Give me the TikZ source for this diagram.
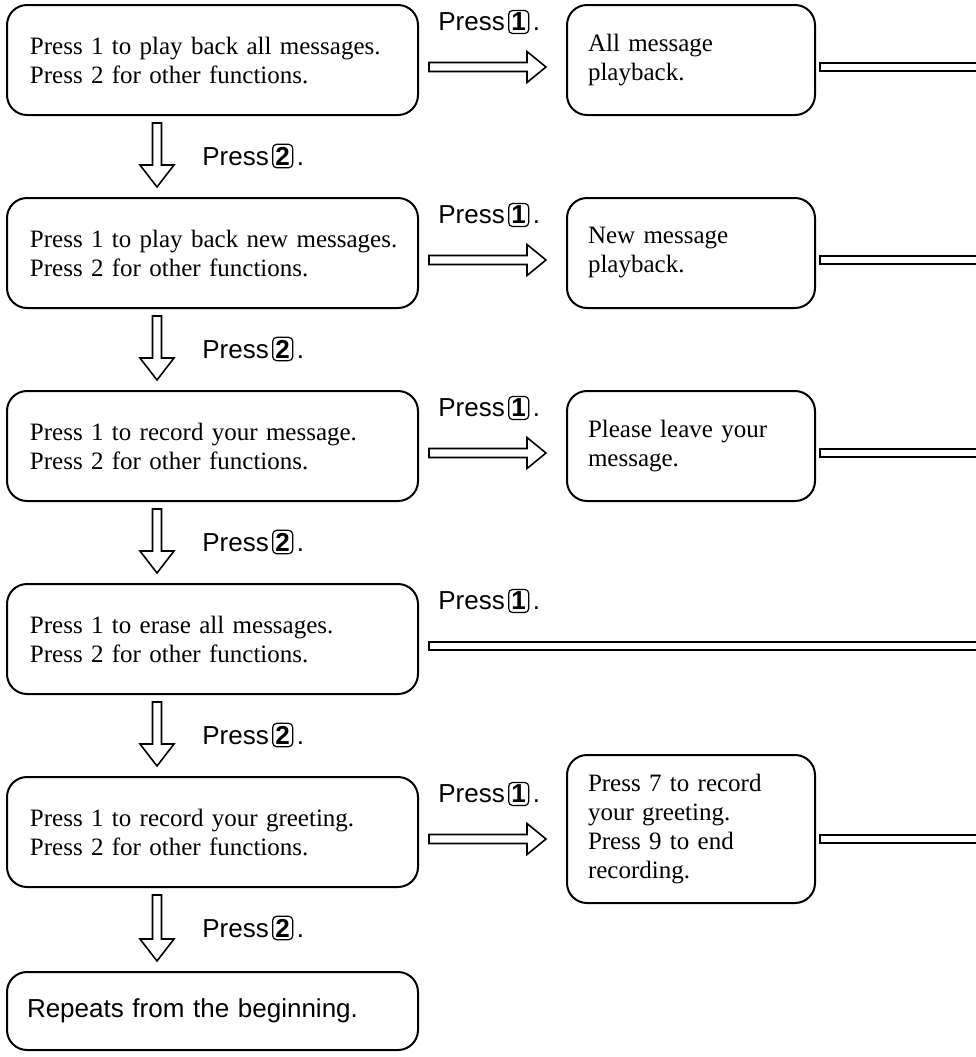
\documentclass[tikz,border=0pt]{standalone}
\usepackage{fontspec}
\setmainfont{Liberation Serif}[WordSpace=0.85]
\setsansfont{Liberation Sans}
\usetikzlibrary{calc}
\newcommand{\rowgap}{193}
\newcommand{\keycap}[1]{\tikz[baseline=(keycap.base)]\node[draw, line width=0.6pt, rounded corners=2pt,
    inner xsep=1.4pt, inner ysep=1.3pt, font=\bfseries] (keycap) {#1};}
\newcommand{\press}[1]{Press\kern1.6pt\keycap{#1}\kern1.8pt.}
\newcommand{\twolines}[2]{\mbox{#1}\\\mbox{#2}}
\newcommand{\fatright}[2]{%
  \draw[fat] ($(#1)+(0,-4.5)$) -- ($(#2)+(-19,-4.5)$) -- ($(#2)+(-19,-15.5)$) -- (#2)
    -- ($(#2)+(-19,15.5)$) -- ($(#2)+(-19,4.5)$) -- ($(#1)+(0,4.5)$) -- cycle;}
\newcommand{\fatdown}[2]{%
  \draw[fat] ($(#1)+(-4.5,0)$) -- ($(#2)+(-4.5,-22)$) -- ($(#2)+(-17,-22)$) -- (#2)
    -- ($(#2)+(17,-22)$) -- ($(#2)+(4.5,-22)$) -- ($(#1)+(4.5,0)$) -- cycle;}
\begin{document}
\begin{tikzpicture}[x=0.5pt, y=-0.5pt, line join=miter,
  menu/.style={draw, line width=1pt, rounded corners=10pt, text width=182.5pt, inner xsep=11.5pt,
    minimum height=55pt, align=left, font=\fontsize{12.5}{14.5}\selectfont},
  reply/.style={menu, text width=103pt, inner xsep=10.5pt},
  fat/.style={line width=0.8pt},
  bar/.style={line width=0.9pt},
  hint/.style={anchor=west, inner sep=0pt, font=\sffamily\fontsize{13}{15}\selectfont}]

\useasboundingbox (0,0) rectangle (976,1057);
\coordinate (edge) at (976,0);

% menu prompts
\foreach \i/\txt in {1/{\twolines{Press 1 to play back all messages.}{Press 2 for other functions.}},
                     2/{\twolines{Press 1 to play back new messages.}{Press 2 for other functions.}},
                     3/{\twolines{Press 1 to record your message.}{Press 2 for other functions.}},
                     4/{\twolines{Press 1 to erase all messages.}{Press 2 for other functions.}},
                     5/{\twolines{Press 1 to record your greeting.}{Press 2 for other functions.}}}
  \node[menu] (L\i) at (212.5,{60+(\i-1)*\rowgap}) {\txt};
\node[menu, minimum height=39pt, inner xsep=10pt, text width=185.5pt, font=\sffamily\fontsize{13}{15}\selectfont]
  (L6) at (212.5,1011) {Repeats from the beginning.};

% replies
\node[reply] (R1) at (691,60) {All message\\playback.};
\node[reply] (R2) at (691,253) {New message\\playback.};
\node[reply] (R3) at (691,446) {Please leave your\\message.};
\node[reply, minimum height=74pt] (R5) at (691,829) {Press 7 to record\\your greeting.\\Press 9 to end\\recording.};

% press 1
\foreach \i in {1,...,5} {
  \coordinate (s\i) at ($(L\i.east)+(10,7)$);
  \node[hint] (p\i) at ($(s\i)+(9,-45)$) {\press{1}};
}
\foreach \i in {1,2,3,5} {
  \coordinate (t\i) at ($(s\i -| R\i.west)+(-20,0)$);
  \fatright{s\i}{t\i}
  \coordinate (b\i) at ($(s\i -| R\i.east)+(4,0)$);
}
\coordinate (b4) at (s4);
\foreach \i in {1,...,5}
  \draw[bar] ($(b\i -| edge)+(0,-4)$) -- ($(b\i)+(0,-4)$) -- ($(b\i)+(0,4)$) -- ($(b\i -| edge)+(0,4)$);

% press 2
\foreach \i [evaluate=\i as \j using int(\i+1)] in {1,...,5} {
  \coordinate (d\i) at ($(L\i.south)+(-55.5,7)$);
  \coordinate (e\i) at ($(L\j.north)+(-55.5,-10)$);
  \fatdown{d\i}{e\i}
  \node[hint] (q\i) at ($(d\i)+(45,33)$) {\press{2}};
}

\end{tikzpicture}
\end{document}
